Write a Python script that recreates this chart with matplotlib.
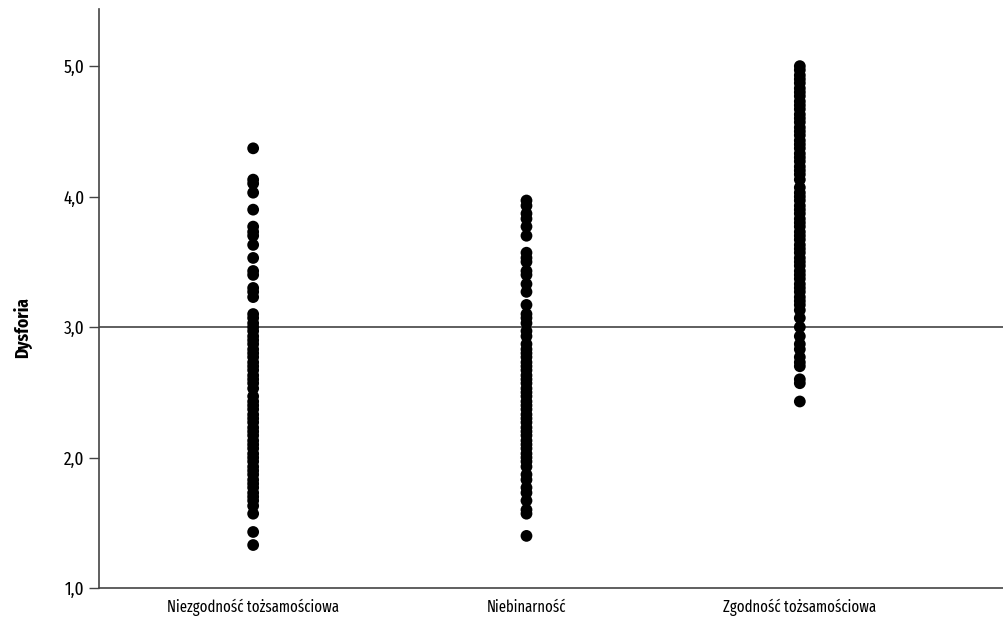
import matplotlib

matplotlib.use("Agg")
import matplotlib.pyplot as plt

categories = ["Niezgodność tożsamościowa", "Niebinarność", "Zgodność tożsamościowa"]

niezgodnosc = [
    4.37, 4.13, 4.10, 4.03, 3.90, 3.77, 3.73, 3.70, 3.63, 3.53, 3.43, 3.40,
    3.30, 3.27, 3.23, 3.10, 3.07, 3.03, 3.00, 2.97, 2.93, 2.90, 2.87, 2.83,
    2.80, 2.77, 2.73, 2.70, 2.67, 2.63, 2.60, 2.57, 2.53, 2.47, 2.43, 2.40,
    2.37, 2.33, 2.30, 2.27, 2.23, 2.20, 2.17, 2.13, 2.10, 2.07, 2.03, 2.00,
    1.97, 1.93, 1.90, 1.87, 1.83, 1.80, 1.77, 1.73, 1.70, 1.67, 1.63, 1.57,
    1.43, 1.33,
]
niebinarnosc = [
    3.97, 3.93, 3.87, 3.83, 3.77, 3.70, 3.57, 3.53, 3.50, 3.43, 3.40, 3.33,
    3.27, 3.17, 3.10, 3.07, 3.03, 2.97, 2.93, 2.87, 2.83, 2.80, 2.77, 2.73,
    2.70, 2.67, 2.63, 2.60, 2.57, 2.53, 2.50, 2.47, 2.43, 2.40, 2.37, 2.33,
    2.30, 2.27, 2.23, 2.20, 2.17, 2.13, 2.10, 2.07, 2.03, 2.00, 1.97, 1.93,
    1.87, 1.83, 1.77, 1.73, 1.67, 1.60, 1.57, 1.40,
]
zgodnosc = [
    5.00, 4.97, 4.93, 4.90, 4.87, 4.83, 4.80, 4.77, 4.73, 4.70, 4.67, 4.63,
    4.60, 4.57, 4.53, 4.50, 4.47, 4.43, 4.40, 4.37, 4.33, 4.30, 4.27, 4.23,
    4.20, 4.17, 4.13, 4.07, 4.03, 4.00, 3.97, 3.93, 3.90, 3.87, 3.83, 3.80,
    3.77, 3.73, 3.70, 3.67, 3.63, 3.60, 3.57, 3.53, 3.50, 3.47, 3.43, 3.40,
    3.37, 3.33, 3.30, 3.27, 3.23, 3.20, 3.17, 3.13, 3.07, 3.00, 2.93, 2.87,
    2.83, 2.77, 2.73, 2.70, 2.60, 2.57, 2.43,
]
groups = [niezgodnosc, niebinarnosc, zgodnosc]

plt.rcParams["font.family"] = ["Fira Sans Extra Condensed", "DejaVu Sans"]

fig = plt.figure(figsize=(10.04, 6.21), dpi=100)
ax = fig.add_axes([0.0986, 0.053, 0.9014, 0.933])

for i, vals in enumerate(groups):
    ax.scatter([i] * len(vals), vals, s=72, color="black", edgecolors="none", zorder=3)

ax.axhline(3.0, color="#333333", lw=1.1, zorder=2)

ax.set_ylim(1.0, 5.44)
ax.set_xlim(-0.564, 2.747)
ax.set_yticks([1, 2, 3, 4, 5])
ax.set_yticklabels(["1,0", "2,0", "3,0", "4,0", "5,0"])
ax.set_xticks(range(len(categories)))
ax.set_xticklabels(categories)
ax.tick_params(axis="x", length=0, labelsize=11.5, pad=8)
ax.tick_params(axis="y", length=7, width=1, color="#444444", labelsize=13.5)
ax.set_ylabel("Dysforia", fontsize=13.5, fontweight="bold")
ax.yaxis.set_label_coords(-0.074, 0.45)

for side in ("top", "right"):
    ax.spines[side].set_visible(False)
for side in ("left", "bottom"):
    ax.spines[side].set_color("#444444")
    ax.spines[side].set_linewidth(1.2)

fig.savefig("out.png", dpi=100)
